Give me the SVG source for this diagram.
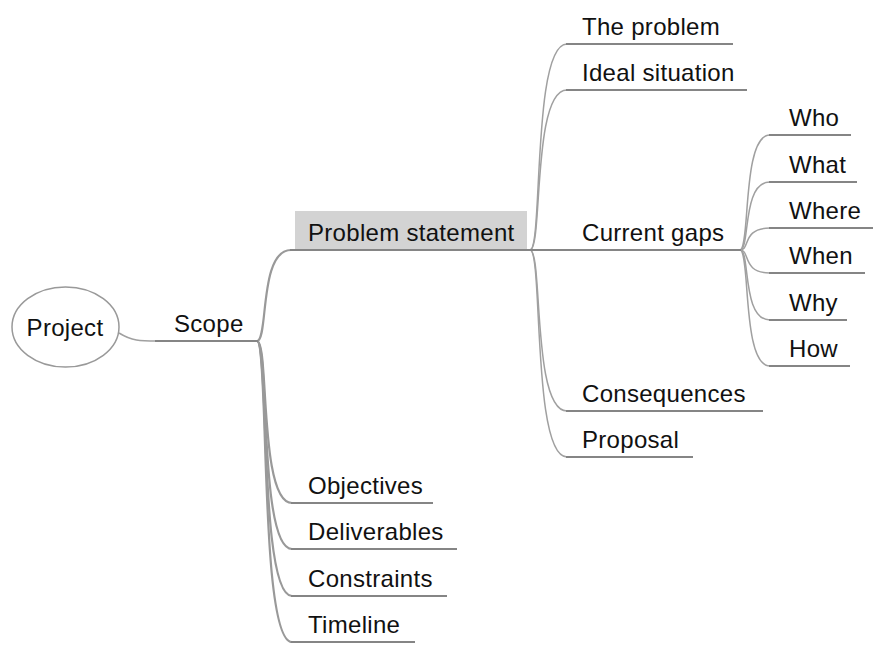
<svg xmlns="http://www.w3.org/2000/svg" width="881" height="653" viewBox="0 0 881 653">
<style>
text{font-family:"Liberation Sans",Arial,sans-serif;font-size:24px;fill:#111;letter-spacing:0.3px}
.ul{stroke:#858585;stroke-width:2;fill:none}
.c{stroke:#a0a0a0;stroke-width:1.5;fill:none}
.c2{stroke:#999;stroke-width:2.2;fill:none}
</style>
<rect width="881" height="653" fill="#fff"/>
<g id="connectors">
<path class="c" d="M119,333 C132,341 140,341 157,341"/>
<path class="c2" d="M257,341 C268.6,341 258.7,250 291,250"/>
<path class="c2" d="M257,341 C269.3,341 258.8,503 292,503"/>
<path class="c2" d="M257,341 C269.3,341 258.8,549 292,549"/>
<path class="c2" d="M257,341 C269.3,341 258.8,596 292,596"/>
<path class="c2" d="M257,341 C269.3,341 258.8,642 292,642"/>
<path class="c" d="M530,250 C543,250 531.9,44 567,44"/>
<path class="c" d="M530,250 C543,250 531.9,90 567,90"/>
<path class="c" d="M530,250 C543,250 531.9,411 567,411"/>
<path class="c" d="M530,250 C543,250 531.9,457 567,457"/>
<path class="c" d="M740,250 C750.5,250 741.5,135 770,135"/>
<path class="c" d="M740,250 C750.5,250 741.5,182 770,182"/>
<path class="c" d="M740,250 C750.5,250 741.5,228 770,228"/>
<path class="c" d="M740,250 C750.5,250 741.5,273 770,273"/>
<path class="c" d="M740,250 C750.5,250 741.5,320 770,320"/>
<path class="c" d="M740,250 C750.5,250 741.5,366 770,366"/>
</g>
<g id="node-project">
<ellipse cx="65.5" cy="327" rx="53.5" ry="40" fill="#fff" stroke="#999" stroke-width="1.5"/>
<text x="65" y="336" text-anchor="middle">Project</text>
</g>
<g id="node-scope">
<line class="ul" x1="155" y1="341" x2="258" y2="341"/>
<text x="174" y="332">Scope</text>
</g>
<g id="node-problem-statement">
<rect x="295" y="211" width="232" height="38" fill="#d3d3d3"/>
<line class="ul" x1="290" y1="250" x2="531" y2="250"/>
<text x="308" y="241">Problem statement</text>
</g>
<g id="node-the-problem">
<line class="ul" x1="566" y1="44" x2="733" y2="44"/>
<text x="582" y="35">The problem</text>
</g>
<g id="node-ideal-situation">
<line class="ul" x1="566" y1="90" x2="747" y2="90"/>
<text x="582" y="81">Ideal situation</text>
</g>
<g id="node-current-gaps">
<line class="ul" x1="530" y1="250" x2="741" y2="250"/>
<text x="582" y="241">Current gaps</text>
</g>
<g id="node-consequences">
<line class="ul" x1="566" y1="411" x2="763" y2="411"/>
<text x="582" y="402">Consequences</text>
</g>
<g id="node-proposal">
<line class="ul" x1="566" y1="457" x2="693" y2="457"/>
<text x="582" y="448">Proposal</text>
</g>
<g id="node-who">
<line class="ul" x1="769" y1="135" x2="851" y2="135"/>
<text x="789" y="126">Who</text>
</g>
<g id="node-what">
<line class="ul" x1="769" y1="182" x2="857" y2="182"/>
<text x="789" y="173">What</text>
</g>
<g id="node-where">
<line class="ul" x1="769" y1="228" x2="873" y2="228"/>
<text x="789" y="219">Where</text>
</g>
<g id="node-when">
<line class="ul" x1="769" y1="273" x2="865" y2="273"/>
<text x="789" y="264">When</text>
</g>
<g id="node-why">
<line class="ul" x1="769" y1="320" x2="847" y2="320"/>
<text x="789" y="311">Why</text>
</g>
<g id="node-how">
<line class="ul" x1="769" y1="366" x2="850" y2="366"/>
<text x="789" y="357">How</text>
</g>
<g id="node-objectives">
<line class="ul" x1="291" y1="503" x2="433" y2="503"/>
<text x="308" y="494">Objectives</text>
</g>
<g id="node-deliverables">
<line class="ul" x1="291" y1="549" x2="457" y2="549"/>
<text x="308" y="540">Deliverables</text>
</g>
<g id="node-constraints">
<line class="ul" x1="291" y1="596" x2="447" y2="596"/>
<text x="308" y="587">Constraints</text>
</g>
<g id="node-timeline">
<line class="ul" x1="291" y1="642" x2="415" y2="642"/>
<text x="308" y="633">Timeline</text>
</g>
</svg>
